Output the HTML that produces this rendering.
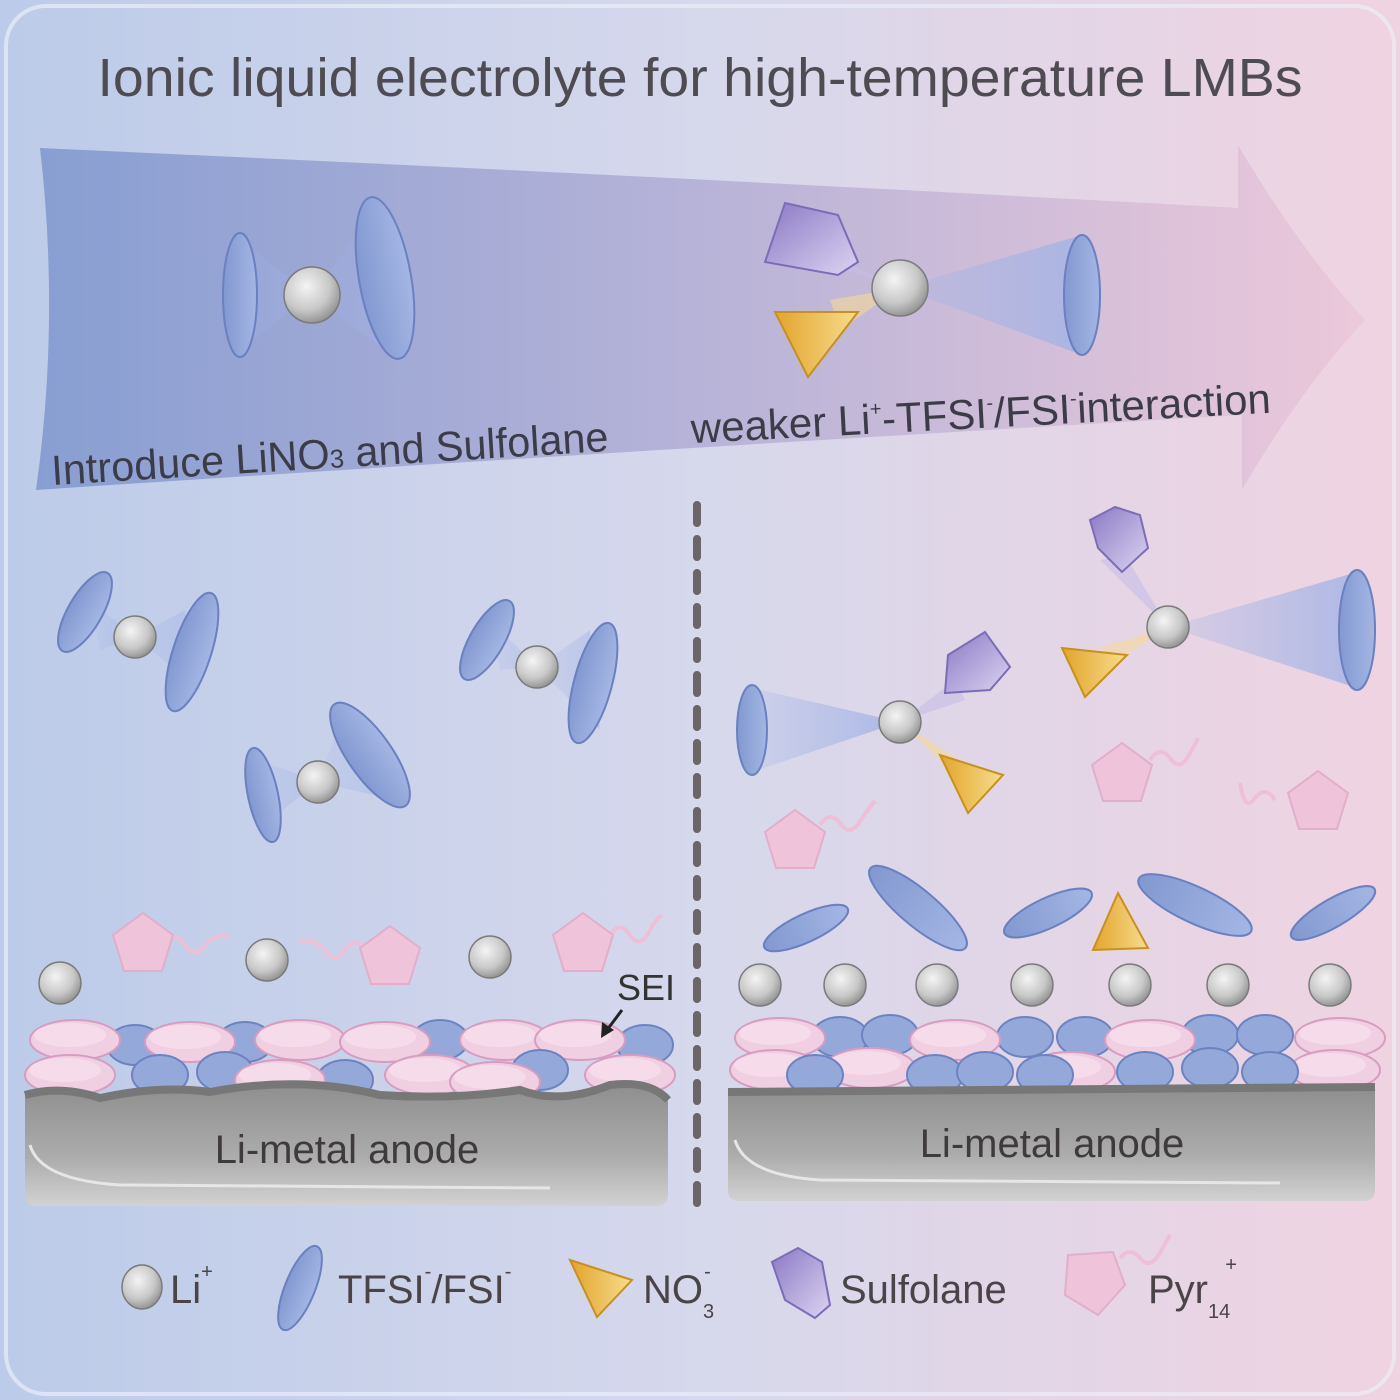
<!DOCTYPE html>
<html><head><meta charset="utf-8"><style>
html,body{margin:0;padding:0;width:1400px;height:1400px;overflow:hidden}
svg{display:block}
text{font-family:"Liberation Sans",sans-serif}
</style></head><body>
<svg width="1400" height="1400" viewBox="0 0 1400 1400" xmlns="http://www.w3.org/2000/svg">
<defs>
<linearGradient id="bg" x1="0" y1="0" x2="1" y2="0">
<stop offset="0" stop-color="#bccbe9"/><stop offset="0.5" stop-color="#d6d8ec"/><stop offset="1" stop-color="#f0d3e1"/></linearGradient>
<linearGradient id="arr" x1="0" y1="0" x2="1" y2="0">
<stop offset="0" stop-color="#889ed2"/><stop offset="0.5" stop-color="#b7b3d8"/><stop offset="1" stop-color="#ecc8da"/></linearGradient>
<radialGradient id="li" cx="0.4" cy="0.35" r="0.7"><stop offset="0" stop-color="#f4f4f4"/><stop offset="0.6" stop-color="#c8c8c8"/><stop offset="1" stop-color="#8c8c8c"/></radialGradient>
<linearGradient id="tf" x1="0" y1="0" x2="1" y2="0"><stop offset="0" stop-color="#8298d0"/><stop offset="1" stop-color="#a4b6e4"/></linearGradient>
<linearGradient id="no3" x1="0" y1="0" x2="1" y2="0"><stop offset="0" stop-color="#e2a52a"/><stop offset="1" stop-color="#f7dc8e"/></linearGradient>
<linearGradient id="sul" x1="0" y1="0" x2="1" y2="1"><stop offset="0" stop-color="#8a78c4"/><stop offset="1" stop-color="#dcd4f2"/></linearGradient>
<linearGradient id="cone" x1="0" y1="0" x2="1" y2="0"><stop offset="0" stop-color="#9fb2e6" stop-opacity="0.2"/><stop offset="1" stop-color="#9fb2e6" stop-opacity="0.8"/></linearGradient>
<linearGradient id="anode" x1="0" y1="0" x2="0" y2="1"><stop offset="0" stop-color="#8e8e8e"/><stop offset="0.6" stop-color="#acacac"/><stop offset="1" stop-color="#d2d2d2"/></linearGradient>
<g id="L"><circle r="21" fill="url(#li)" stroke="#7a7a7a" stroke-width="1.5"/></g>
<g id="P"><polygon points="0,-32 30,-10 19,26 -19,26 -30,-10" fill="#efc3da" stroke="#e2aecb" stroke-width="2"/></g>
<g id="PS"><ellipse rx="45" ry="20" fill="#f0cfe2" stroke="#d89cc0" stroke-width="2"/><ellipse cx="-5" cy="-5" rx="36" ry="12" fill="#f6dcea"/></g>
<g id="BS"><ellipse rx="28" ry="20" fill="#95a8da" stroke="#6c83c2" stroke-width="2"/></g>
</defs>
<rect width="1400" height="1400" fill="url(#bg)"/>
<rect x="6" y="6" width="1388" height="1388" rx="40" fill="none" stroke="#e9eef8" stroke-width="4" opacity="0.7"/>
<text x="700" y="96" text-anchor="middle" font-size="54" fill="#4e4c52" textLength="1205" lengthAdjust="spacingAndGlyphs">Ionic liquid electrolyte for high-temperature LMBs</text>
<!-- arrow -->
<path d="M40,148 Q640,175 1238,208 L1238,145 Q1300,250 1365,320 Q1300,390 1242,490 L1242,415 Q640,450 36,490 Q60,320 40,148 Z" fill="url(#arr)"/>
<g transform="rotate(-3.5 330 440)"><text x="50" y="468" font-size="42" fill="#3c3c48" textLength="558" lengthAdjust="spacingAndGlyphs">Introduce LiNO<tspan font-size="26">3</tspan> and Sulfolane</text></g>
<g transform="rotate(-3 980 405)"><text x="690" y="428" font-size="42" fill="#3c3c48">weaker Li<tspan font-size="20" dy="-18">+</tspan><tspan dy="18">-TFSI</tspan><tspan font-size="20" dy="-18">-</tspan><tspan dy="18">/FSI</tspan><tspan font-size="20" dy="-18">-</tspan><tspan dy="18">interaction</tspan></text></g>
<!-- top-left complex -->
<polygon points="312,295 240,240 240,350" fill="url(#cone)" opacity="0.6"/>
<polygon points="312,295 380,205 392,355" fill="url(#cone)" opacity="0.6"/>
<ellipse cx="240" cy="295" rx="17" ry="62" fill="url(#tf)" stroke="#6a80c0" stroke-width="2"/>
<ellipse cx="385" cy="278" rx="26" ry="82" transform="rotate(-10 385 278)" fill="url(#tf)" stroke="#6a80c0" stroke-width="2"/>
<circle cx="312" cy="295" r="28" fill="url(#li)" stroke="#7a7a7a" stroke-width="1.5"/>
<!-- top-right complex -->
<polygon points="900,288 1082,235 1082,355" fill="url(#cone)"/>
<polygon points="900,288 830,300 840,330" fill="#f5d998" opacity="0.6"/>
<polygon points="900,288 820,250 845,270" fill="#c7bce6" opacity="0.6"/>
<ellipse cx="1082" cy="295" rx="18" ry="60" fill="url(#tf)" stroke="#6a80c0" stroke-width="2"/>
<polygon points="785,203 838,215 858,262 838,275 765,262" fill="url(#sul)" stroke="#7c6cb8" stroke-width="2"/>
<polygon points="775,312 858,312 808,377" fill="url(#no3)" stroke="#c8901c" stroke-width="2"/>
<circle cx="900" cy="288" r="28" fill="url(#li)" stroke="#7a7a7a" stroke-width="1.5"/>
<!-- dashed line -->
<line x1="697" y1="505" x2="697" y2="1205" stroke="#6b6468" stroke-width="8" stroke-dasharray="18 16" stroke-linecap="round"/>
<!-- left middle complexes -->
<g>
<polygon points="135,637 90,600 100,650" fill="url(#cone)" opacity="0.6"/><polygon points="135,637 185,610 200,690" fill="url(#cone)" opacity="0.6"/>
<ellipse cx="85" cy="612" rx="17" ry="45" transform="rotate(30 85 612)" fill="url(#tf)" stroke="#6a80c0" stroke-width="2"/>
<ellipse cx="192" cy="652" rx="19" ry="62" transform="rotate(18 192 652)" fill="url(#tf)" stroke="#6a80c0" stroke-width="2"/>
<use href="#L" x="135" y="637"/>
</g>
<g>
<polygon points="537,667 490,620 500,670" fill="url(#cone)" opacity="0.6"/><polygon points="537,667 590,630 600,730" fill="url(#cone)" opacity="0.6"/>
<ellipse cx="487" cy="640" rx="17" ry="45" transform="rotate(30 487 640)" fill="url(#tf)" stroke="#6a80c0" stroke-width="2"/>
<ellipse cx="593" cy="683" rx="19" ry="62" transform="rotate(15 593 683)" fill="url(#tf)" stroke="#6a80c0" stroke-width="2"/>
<use href="#L" x="537" y="667"/>
</g>
<g>
<polygon points="318,782 260,760 270,820" fill="url(#cone)" opacity="0.6"/><polygon points="318,782 345,710 395,800" fill="url(#cone)" opacity="0.6"/>
<ellipse cx="263" cy="795" rx="15" ry="48" transform="rotate(-12 263 795)" fill="url(#tf)" stroke="#6a80c0" stroke-width="2"/>
<ellipse cx="370" cy="755" rx="22" ry="62" transform="rotate(-35 370 755)" fill="url(#tf)" stroke="#6a80c0" stroke-width="2"/>
<use href="#L" x="318" y="782"/>
</g>
<!-- right middle complexes -->
<polygon points="1168,627 1357,572 1357,688" fill="url(#cone)"/>
<polygon points="1168,627 1100,560 1125,555" fill="#c7bce6" opacity="0.6"/>
<polygon points="1168,627 1100,648 1105,670" fill="#f5d998" opacity="0.6"/>
<ellipse cx="1357" cy="630" rx="18" ry="60" fill="url(#tf)" stroke="#6a80c0" stroke-width="2"/>
<polygon points="1090,520 1115,507 1140,515 1148,548 1122,572 1098,548" fill="url(#sul)" stroke="#7c6cb8" stroke-width="2"/>
<polygon points="1062,648 1127,655 1085,697" fill="url(#no3)" stroke="#c8901c" stroke-width="2"/>
<use href="#L" x="1168" y="627"/>
<polygon points="900,722 752,688 752,772" fill="url(#cone)"/>
<polygon points="900,722 955,680 965,700" fill="#c7bce6" opacity="0.6"/>
<polygon points="900,722 945,765 960,760" fill="#f5d998" opacity="0.6"/>
<ellipse cx="752" cy="730" rx="15" ry="45" fill="url(#tf)" stroke="#6a80c0" stroke-width="2"/>
<polygon points="948,655 985,632 1010,667 990,690 945,693" fill="url(#sul)" stroke="#7c6cb8" stroke-width="2"/>
<polygon points="940,755 1003,775 968,813" fill="url(#no3)" stroke="#c8901c" stroke-width="2"/>
<use href="#L" x="900" y="722"/>
<!-- pyr floating -->
<g fill="none" stroke="#efbfd8" stroke-width="4">
<path d="M820,825 q10,-15 20,-2 q10,15 20,-2 q8,-12 15,-20"/>
<path d="M1150,760 q10,-15 20,-2 q10,15 20,-5 q5,-8 8,-15"/>
<path d="M1275,800 q-10,-15 -20,-2 q-10,15 -15,-15"/>
<path d="M165,945 q10,-15 20,0 q10,15 20,0 q10,-12 25,-8"/>
<path d="M365,950 q-10,-15 -20,0 q-10,15 -20,0 q-10,-12 -25,-8"/>
<path d="M610,935 q10,-15 20,0 q10,15 20,-5 q5,-10 12,-15"/>
</g>
<use href="#P" x="795" y="842"/>
<use href="#P" x="1122" y="775"/>
<use href="#P" x="1318" y="803"/>
<use href="#P" x="143" y="945"/>
<use href="#P" x="390" y="958"/>
<use href="#P" x="583" y="945"/>
<!-- right floating TFSI + NO3 -->
<g fill="url(#tf)" stroke="#6a80c0" stroke-width="2">
<ellipse cx="806" cy="928" rx="46" ry="14" transform="rotate(-25 806 928)"/>
<ellipse cx="918" cy="908" rx="62" ry="18" transform="rotate(40 918 908)"/>
<ellipse cx="1048" cy="913" rx="48" ry="15" transform="rotate(-25 1048 913)"/>
<ellipse cx="1195" cy="905" rx="62" ry="18" transform="rotate(25 1195 905)"/>
<ellipse cx="1333" cy="913" rx="48" ry="14" transform="rotate(-30 1333 913)"/>
</g>
<polygon points="1118,893 1093,950 1148,948" fill="url(#no3)" stroke="#c8901c" stroke-width="2"/>
<!-- Li rows -->
<use href="#L" x="60" y="983"/><use href="#L" x="267" y="960"/><use href="#L" x="490" y="957"/>
<use href="#L" x="760" y="985"/><use href="#L" x="845" y="985"/><use href="#L" x="937" y="985"/><use href="#L" x="1032" y="985"/><use href="#L" x="1130" y="985"/><use href="#L" x="1228" y="985"/><use href="#L" x="1330" y="985"/>
<!-- left SEI -->
<use href="#BS" x="135" y="1045"/><use href="#BS" x="245" y="1042"/><use href="#BS" x="440" y="1040"/><use href="#BS" x="645" y="1045"/>
<use href="#PS" x="75" y="1040"/><use href="#PS" x="190" y="1042"/><use href="#PS" x="300" y="1040"/><use href="#PS" x="385" y="1042"/><use href="#PS" x="505" y="1040"/><use href="#PS" x="580" y="1040"/>
<use href="#BS" x="160" y="1075"/><use href="#BS" x="225" y="1072"/><use href="#BS" x="345" y="1080"/><use href="#BS" x="540" y="1070"/>
<use href="#PS" x="70" y="1075"/><use href="#PS" x="280" y="1080"/><use href="#PS" x="430" y="1075"/><use href="#PS" x="630" y="1075"/><use href="#PS" x="495" y="1082"/>
<path d="M25,1095 Q60,1085 100,1098 Q160,1085 210,1092 Q300,1075 380,1095 Q450,1100 520,1090 Q560,1105 610,1085 Q650,1080 668,1100 L668,1195 Q668,1206 656,1206 L37,1206 Q25,1206 25,1195 Z" fill="url(#anode)"/>
<path d="M25,1095 Q60,1085 100,1098 Q160,1085 210,1092 Q300,1075 380,1095 Q450,1100 520,1090 Q560,1105 610,1085 Q650,1080 668,1100" fill="none" stroke="#777" stroke-width="8"/>
<path d="M30,1145 Q40,1180 120,1185 L550,1188" fill="none" stroke="#e6e6e6" stroke-width="3"/>
<text x="347" y="1163" text-anchor="middle" font-size="40" fill="#3f3a3c">Li-metal anode</text>
<text x="617" y="1000" font-size="36" fill="#333">SEI</text>
<line x1="622" y1="1010" x2="607" y2="1030" stroke="#222" stroke-width="3"/><polygon points="601,1038 602,1022 614,1030" fill="#222"/>
<!-- right SEI -->
<use href="#BS" x="840" y="1037"/><use href="#BS" x="890" y="1035"/><use href="#BS" x="1025" y="1037"/><use href="#BS" x="1085" y="1037"/><use href="#BS" x="1210" y="1035"/><use href="#BS" x="1265" y="1035"/>
<use href="#PS" x="780" y="1038"/><use href="#PS" x="955" y="1040"/><use href="#PS" x="1150" y="1040"/><use href="#PS" x="1340" y="1038"/>
<use href="#PS" x="775" y="1070"/><use href="#PS" x="870" y="1068"/><use href="#PS" x="1070" y="1072"/><use href="#PS" x="1335" y="1070"/>
<use href="#BS" x="815" y="1075"/><use href="#BS" x="935" y="1075"/><use href="#BS" x="985" y="1072"/><use href="#BS" x="1045" y="1075"/><use href="#BS" x="1145" y="1072"/><use href="#BS" x="1210" y="1068"/><use href="#BS" x="1270" y="1072"/>
<path d="M728,1092 L1375,1087 L1375,1190 Q1375,1201 1363,1201 L740,1201 Q728,1201 728,1190 Z" fill="url(#anode)"/>
<line x1="728" y1="1092" x2="1375" y2="1087" stroke="#777" stroke-width="8"/>
<path d="M735,1140 Q745,1175 820,1180 L1280,1183" fill="none" stroke="#e6e6e6" stroke-width="3"/>
<text x="1052" y="1157" text-anchor="middle" font-size="40" fill="#3f3a3c">Li-metal anode</text>
<!-- legend -->
<ellipse cx="142" cy="1287" rx="20" ry="22" fill="url(#li)" stroke="#7a7a7a" stroke-width="1.5"/>
<text x="170" y="1303" font-size="40" fill="#4a4448">Li<tspan font-size="20" dy="-25">+</tspan></text>
<ellipse cx="300" cy="1288" rx="15" ry="45" transform="rotate(22 300 1288)" fill="url(#tf)" stroke="#6a80c0" stroke-width="2"/>
<text x="338" y="1303" font-size="40" fill="#4a4448">TFSI<tspan font-size="20" dy="-25">-</tspan><tspan dy="25">/FSI</tspan><tspan font-size="20" dy="-25">-</tspan></text>
<polygon points="570,1260 632,1280 597,1317" fill="url(#no3)" stroke="#c8901c" stroke-width="2"/>
<text x="643" y="1303" font-size="40" fill="#4a4448">NO<tspan font-size="20" dy="15">3</tspan><tspan font-size="20" dy="-40" dx="-10">-</tspan></text>
<polygon points="798,1248 822,1262 830,1305 815,1318 785,1300 772,1262" fill="url(#sul)" stroke="#7c6cb8" stroke-width="2"/>
<text x="840" y="1303" font-size="40" fill="#4a4448">Sulfolane</text>
<path d="M1120,1258 q10,-12 20,0 q10,12 20,-5 q5,-10 10,-18" fill="none" stroke="#efbfd8" stroke-width="4"/>
<polygon points="1068,1255 1113,1252 1125,1285 1098,1315 1065,1295" fill="#efc3da" stroke="#e2aecb" stroke-width="2"/>
<text x="1148" y="1303" font-size="40" fill="#4a4448">Pyr<tspan font-size="20" dy="15">14</tspan><tspan font-size="20" dy="-47" dx="-5">+</tspan></text>
</svg>
</body></html>
